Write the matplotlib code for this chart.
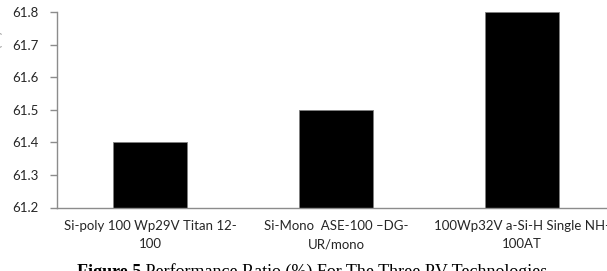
import numpy as np
import matplotlib.pyplot as plt

technologies = ['Si-poly 100 Wp29V Titan 12-\n100',
                'Si-Mono  ASE-100 \u2013DG-\nUR/mono',
                '100Wp32V a-Si-H Single NH-\n100AT']
performance_ratio = [61.4, 61.5, 61.8]
y_ticks = [61.2, 61.3, 61.4, 61.5, 61.6, 61.7, 61.8]

plt.rcParams['font.family'] = ['Lato', 'DejaVu Sans']

fig = plt.figure(figsize=(6.07, 2.71), dpi=100)
ax = fig.add_axes([57/607, 63.5/271, 558/607, 195.2/271])

x = np.arange(len(technologies))
ax.bar(x, np.array(performance_ratio) - 61.2, bottom=61.2, width=0.4,
       color='black', edgecolor='#7f7f7f', linewidth=0.6)

ax.set_xlim(-0.5, 2.5)
ax.set_ylim(61.2, 61.8)
ax.set_yticks(y_ticks)
ax.set_yticklabels(['{:.1f}'.format(v) for v in y_ticks])
ax.set_xticks(x)
ax.set_xticklabels(technologies, linespacing=1.65)

for side in ['top', 'right']:
    ax.spines[side].set_visible(False)
for side in ['left', 'bottom']:
    ax.spines[side].set_color('#8c8c8c')
    ax.spines[side].set_linewidth(1.0)
ax.tick_params(axis='y', length=5, width=1.0, color='#8c8c8c',
               labelsize=9.5, labelcolor='#262626', pad=8)
ax.tick_params(axis='x', length=0, labelsize=9.5, labelcolor='#262626', pad=9)

# y label mostly cut off at left edge in the original
fig.text(-3/607, (271 - 95)/271, 'Performance Ratio (%)', rotation=90,
         ha='center', va='center', fontsize=9.5, color='#9a9a9a')

# caption
cap = fig.text(77/607, -6/271, 'Figure 5', family='Liberation Serif',
               fontsize=13, fontweight='bold', va='baseline')
ax.annotate(' Performance Ratio (%) For The Three PV Technologies',
            xy=(1, 0), xycoords=cap, va='bottom', ha='left',
            family='Liberation Serif', fontsize=13, annotation_clip=False)

fig.savefig('out.png', dpi=100)
